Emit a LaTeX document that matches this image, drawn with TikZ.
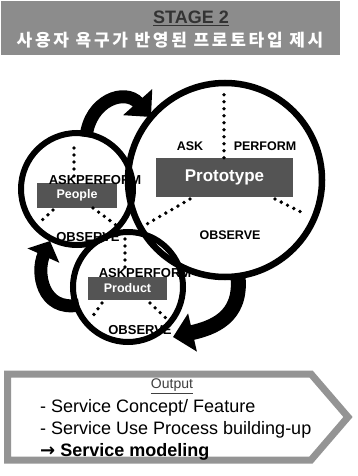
\documentclass[tikz,border=0pt]{standalone}
\usepackage{fontspec}
\setmainfont{Liberation Sans}
\newfontfamily\krfont{Noto Sans CJK KR}[LetterSpace=16]
\newfontfamily\symfont{DejaVu Sans}
\usetikzlibrary{arrows.meta}
\definecolor{bandgray}{gray}{0.55}
\definecolor{boxgray}{gray}{0.33}
\definecolor{framegray}{gray}{0.58}
\begin{document}
\begin{tikzpicture}[x=1pt,y=-1pt,
  ring/.style={circle,draw=black,line width=6pt,inner sep=0pt},
  dotline/.style={line width=3.8pt,line cap=round,dash pattern=on 0pt off 7pt},
  obslbl/.style={font=\bfseries\fontsize{12.5}{13}\selectfont,inner sep=0pt},
  smalllbl/.style={font=\bfseries\fontsize{13}{14}\selectfont,inner sep=0pt},
  darkbox/.style={fill=boxgray,text=white,inner sep=0pt,font=\bfseries\fontsize{12.5}{13}\selectfont},
  cyclearrow/.style={draw=black,-{Triangle[length=20pt,width=38pt]}}
]
\useasboundingbox (0,0) rectangle (358,476);

% header
\node[fill=bandgray,minimum width=339pt,minimum height=54pt,inner sep=0pt,anchor=north west] (band) at (1,1) {};
\node[font=\bfseries\fontsize{18}{20}\selectfont,text=black!80,inner sep=0pt] (stage) at (191,18) {\underline{STAGE 2}};
\node[font=\krfont\bfseries\fontsize{17}{19}\selectfont,text=white,inner sep=0pt] (title) at (170,40) {사용자 욕구가 반영된 프로토타입 제시};

% People contents
\node[darkbox,minimum width=80pt,minimum height=25pt] (pbox) at (77,195.5) {People};
\node[smalllbl,anchor=south] (pask) at (95,184.5) {ASK\hspace{0pt}PERFORM};
\node[smalllbl] (pobs) at (88,237) {OBSERVE};
\coordinate (ptop) at (74,146);
\coordinate (pdl) at (38,224);
\coordinate (pdr) at (120,228);
\draw[dotline] (74,176) -- (ptop);
\draw[dotline] (53,210) -- (pdl);
\draw[dotline] (93,208) -- (pdr);
\node[ring,minimum size=112pt] (people) at (77,189) {};

% Product contents
\node[darkbox,minimum width=79pt,minimum height=23pt] (dbox) at (127.5,288.5) {Product};
\node[smalllbl,anchor=south] (dask) at (145,278) {ASK\hspace{0pt}PERFORM};
\node[smalllbl] (dobs) at (140,330) {OBSERVE};
\coordinate (dtop) at (125,238);
\coordinate (ddl) at (90,320);
\coordinate (ddr) at (168,320);
\draw[dotline] (125,267) -- (dtop);
\draw[dotline] (102,303) -- (ddl);
\draw[dotline] (150,303) -- (ddr);
\node[ring,minimum size=110pt] (product) at (128,287) {};

% Prototype contents
\node[darkbox,minimum width=137pt,minimum height=39pt,font=\bfseries\fontsize{17}{19}\selectfont] (tbox) at (224.5,177.5) {Prototype};
\node[obslbl] (task) at (190,146) {ASK};
\node[obslbl] (tperf) at (265,146) {PERFORM};
\node[obslbl] (tobs) at (230,235) {OBSERVE};
\coordinate (ttop) at (224,90);
\coordinate (tdl) at (147,224);
\coordinate (tdr) at (303,213);
\draw[dotline] (tbox.north -| ttop) -- (ttop);
\draw[dotline] (190,199) -- (tdl);
\draw[dotline] (275,199) -- (tdr);
\node[ring,minimum size=194pt,line width=6.5pt] (proto) at (225,180) {};

% cycle arrows
\coordinate (a1s) at (86,137);
\coordinate (a1e) at (151,117);
\draw[cyclearrow,line width=13pt] (a1s) .. controls (90,100) and (125,88) .. (a1e);
\coordinate (a2s) at (79,305);
\coordinate (a2e) at (50,241);
\draw[cyclearrow,line width=13pt,-{Triangle[length=16pt,width=34pt]}] (a2s) .. controls (42,312) and (36,272) .. (a2e);
\coordinate (a3s) at (238,277);
\coordinate (a3e) at (173,337);
\draw[cyclearrow,line width=15pt] (a3s) .. controls (242,318) and (212,328) .. (a3e);

% output box
\draw[draw=framegray,line width=7pt,fill=white] (7.5,374) -- (311,374) -- (348,417) -- (311,460) -- (7.5,460) -- cycle;
\node[font=\fontsize{14}{16}\selectfont,text=black!75,inner sep=0pt] (outhead) at (172,386) {\underline{Output}};
\node[font=\fontsize{18}{20}\selectfont,anchor=west,inner sep=0pt] (out1) at (40,408) {- Service Concept/ Feature};
\node[font=\fontsize{18}{20}\selectfont,anchor=west,inner sep=0pt] (out2) at (40,430) {- Service Use Process building-up};
\node[font=\bfseries\fontsize{18}{20}\selectfont,anchor=west,inner sep=0pt] (out3) at (40,452) {{\symfont →} Service modeling};
\end{tikzpicture}
\end{document}
